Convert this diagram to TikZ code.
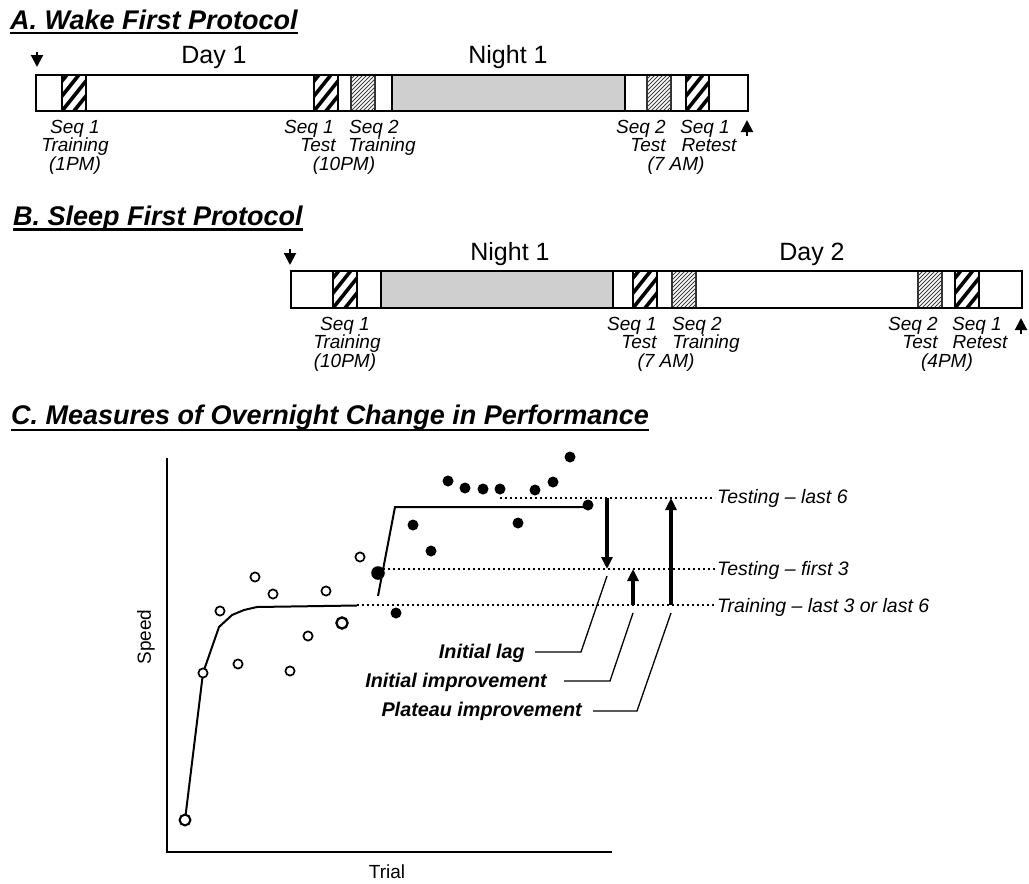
\documentclass[tikz,border=0pt]{standalone}
\usepackage{fontspec}
\setmainfont{Liberation Sans}
\usetikzlibrary{arrows.meta}

\newcommand\myBoldHatch[4]{%
  \fill[white] (#1,#3) rectangle (#2,#4);
  \begin{scope}
    \clip (#1,#3) rectangle (#2,#4);
    \foreach \k in {-48,-36,...,36} {
      \draw[line width=3.6] ({#1+\k},#4) -- ({#1+\k+0.8*(#4-#3)},#3);
    }
  \end{scope}
  \draw[line width=1.5] (#1,#3) rectangle (#2,#4);
}
\newcommand\myFineHatch[4]{%
  \fill[white] (#1,#3) rectangle (#2,#4);
  \begin{scope}
    \clip (#1,#3) rectangle (#2,#4);
    \foreach \k in {-48,-44,...,36} {
      \draw[line width=0.8, black!75] ({#1+\k},#4) -- ({#1+\k+#4-#3},#3);
    }
  \end{scope}
  \draw[line width=1.3, black!80] (#1,#3) rectangle (#2,#4);
}

\begin{document}
\begin{tikzpicture}[x=1pt,y=-1pt,
  title/.style={anchor=base west, inner sep=0pt, font=\fontsize{27}{27}\selectfont\bfseries\itshape},
  period/.style={anchor=base, inner sep=0pt, font=\fontsize{25}{25}\selectfont},
  lab/.style={anchor=base, inner sep=0pt, font=\fontsize{19}{19}\selectfont\itshape},
  rlab/.style={anchor=base west, inner sep=0pt, font=\fontsize{19.5}{19.5}\selectfont\itshape},
  blab/.style={anchor=base east, inner sep=0pt, font=\fontsize{19.8}{19.8}\selectfont\bfseries\itshape},
  axlab/.style={inner sep=0pt, font=\fontsize{19}{19}\selectfont},
  uline/.style={line width=2.6},
  barline/.style={line width=1.6},
  night/.style={fill=black!19, draw, line width=1.6},
  tiparrow/.style={line width=2, -{Triangle[length=12pt,width=12pt]}},
  bigarrow/.style={line width=4, -{Triangle[length=12pt,width=11pt]}},
  leader/.style={line width=1.3},
  level/.style={line width=2, dash pattern=on 2pt off 3pt},
  curve/.style={line width=2},
  opendot/.style={draw, fill=white, line width=1.7},
  fulldot/.style={fill=black}
]
\useasboundingbox (0,0) rectangle (1029,884);

% ---------------- Panel A ----------------
\node[title] (tA) at (10,29) {A. Wake First Protocol};
\draw[uline] ([yshift=-4]tA.base west) -- ([yshift=-4]tA.base east);

\coordinate (aDs) at (37,52); \coordinate (aDe) at (37,67);
\draw[tiparrow] (aDs) -- (aDe);
\coordinate (aUs) at (747,136); \coordinate (aUe) at (747,120);
\draw[tiparrow] (aUs) -- (aUe);

\node[period] (aday) at (214,63) {Day 1};
\node[period] (anight) at (508,63) {Night 1};

\fill[white] (36,75) rectangle (748,111);
\draw[night] (392,75) rectangle (625,111);
\myBoldHatch{62}{86}{75}{111}
\myBoldHatch{314}{338}{75}{111}
\myFineHatch{351}{375}{75}{111}
\myFineHatch{647}{671}{75}{111}
\myBoldHatch{686}{709}{75}{111}
\draw[barline] (36,75) rectangle (748,111);

\node[lab] (a1a) at (75,133) {Seq 1};
\node[lab] (a1b) at (75,151.5) {Training};
\node[lab] (a1c) at (75,170) {(1PM)};
\node[lab] (a2a) at (309,133) {Seq 1};
\node[lab] (a2b) at (318,151.5) {Test};
\node[lab] (a2c) at (344,170) {(10PM)};
\node[lab] (a3a) at (374,133) {Seq 2};
\node[lab] (a3b) at (382,151.5) {Training};
\node[lab] (a4a) at (641,133) {Seq 2};
\node[lab] (a4b) at (648,151.5) {Test};
\node[lab] (a4c) at (676,170) {(7 AM)};
\node[lab] (a5a) at (705,133) {Seq 1};
\node[lab] (a5b) at (709,151.5) {Retest};

% ---------------- Panel B ----------------
\node[title] (tB) at (13,225) {B. Sleep First Protocol};
\draw[uline] ([yshift=-4.5]tB.base west) -- ([yshift=-4.5]tB.base east);

\coordinate (bDs) at (290,249); \coordinate (bDe) at (290,265);
\draw[tiparrow] (bDs) -- (bDe);
\coordinate (bUs) at (1021,334); \coordinate (bUe) at (1021,318);
\draw[tiparrow] (bUs) -- (bUe);

\node[period] (bnight) at (510,260) {Night 1};
\node[period] (bday) at (812,260) {Day 2};

\fill[white] (291,271) rectangle (1022,308);
\draw[night] (381,271) rectangle (613,308);
\myBoldHatch{333}{357}{271}{308}
\myBoldHatch{633}{657}{271}{308}
\myFineHatch{672}{696}{271}{308}
\myFineHatch{918}{942}{271}{308}
\myBoldHatch{955}{979}{271}{308}
\draw[barline] (291,271) rectangle (1022,308);

\node[lab] (b1a) at (345,330) {Seq 1};
\node[lab] (b1b) at (347,348.5) {Training};
\node[lab] (b1c) at (345,367) {(10PM)};
\node[lab] (b2a) at (632,330) {Seq 1};
\node[lab] (b2b) at (639,348.5) {Test};
\node[lab] (b2c) at (666,367) {(7 AM)};
\node[lab] (b3a) at (697,330) {Seq 2};
\node[lab] (b3b) at (706,348.5) {Training};
\node[lab] (b4a) at (913,330) {Seq 2};
\node[lab] (b4b) at (920,348.5) {Test};
\node[lab] (b4c) at (947,367) {(4PM)};
\node[lab] (b5a) at (977,330) {Seq 1};
\node[lab] (b5b) at (980,348.5) {Retest};

% ---------------- Panel C ----------------
\node[title] (tC) at (11,424) {C. Measures of Overnight Change in Performance};
\draw[uline] ([yshift=-6]tC.base west) -- ([yshift=-6]tC.base east);

% axes
\coordinate (ytop) at (167,458);
\coordinate (orig) at (167,852);
\coordinate (xend) at (612,852);
\draw[line width=2.2] (ytop) -- (orig) -- (xend);
\node[axlab, rotate=90] (speed) at (146,637) {Speed};
\node[axlab] (trial) at (387,872) {Trial};

% dotted levels
\coordinate (l6s) at (500,498); \coordinate (l6e) at (715,498);
\coordinate (f3s) at (383,569); \coordinate (f3e) at (715,569);
\coordinate (trs) at (357,605); \coordinate (tre) at (715,605);
\draw[level] (l6s) -- (l6e);
\draw[level] (f3s) -- (f3e);
\draw[level] (trs) -- (tre);

\node[rlab] (lvl6) at (717,503) {Testing -- last 6};
\node[rlab] (lvl3) at (717,575) {Testing -- first 3};
\node[rlab] (lvlt) at (717,612) {Training -- last 3 or last 6};

% fitted curves
\draw[curve] (185,820) -- (203,673) -- (219,627) -- (232,615) -- (244,610) -- (257,607) -- (357,605.5);
\draw[curve] (378,596) -- (395,507) -- (588,507);

% training points (open)
\foreach \px/\py in {360/557, 255/577, 273/594, 326/591, 220/611, 308/636, 238/664, 290/671, 203/673}
  \draw[opendot] (\px,\py) circle (4.6);
\draw[opendot, line width=2.3] (342,623) circle (5.6);
\draw[opendot, line width=2.1] (185,820) circle (5.4);

% test points (filled)
\foreach \px/\py in {448/481, 465/488, 483/489, 500/489, 535/490, 553/482, 570/457, 413/525, 431/551, 518/523, 396/613, 588/505}
  \fill[fulldot] (\px,\py) circle (5.5);
\fill[fulldot] (378,573) circle (6.8);

% measure arrows
\coordinate (lagS) at (607,498); \coordinate (lagE) at (607,569);
\coordinate (impS) at (633,605); \coordinate (impE) at (633,569);
\coordinate (plaS) at (671,605); \coordinate (plaE) at (671,498);
\draw[bigarrow] (lagS) -- (lagE);
\draw[bigarrow] (impS) -- (impE);
\draw[bigarrow] (plaS) -- (plaE);

% leader labels
\node[blab] (lag) at (525,658) {Initial lag};
\node[blab] (imp) at (547,687) {Initial improvement};
\node[blab] (pla) at (582,716) {Plateau improvement};

\coordinate (lagA) at (607,576); \coordinate (lagB) at (581,652); \coordinate (lagC) at (535,652);
\coordinate (impA) at (633,613); \coordinate (impB) at (610,681); \coordinate (impC) at (564,681);
\coordinate (plaA) at (671,613); \coordinate (plaB) at (637,711); \coordinate (plaC) at (593,711);
\draw[leader] (lagA) -- (lagB) -- (lagC);
\draw[leader] (impA) -- (impB) -- (impC);
\draw[leader] (plaA) -- (plaB) -- (plaC);

\end{tikzpicture}
\end{document}
